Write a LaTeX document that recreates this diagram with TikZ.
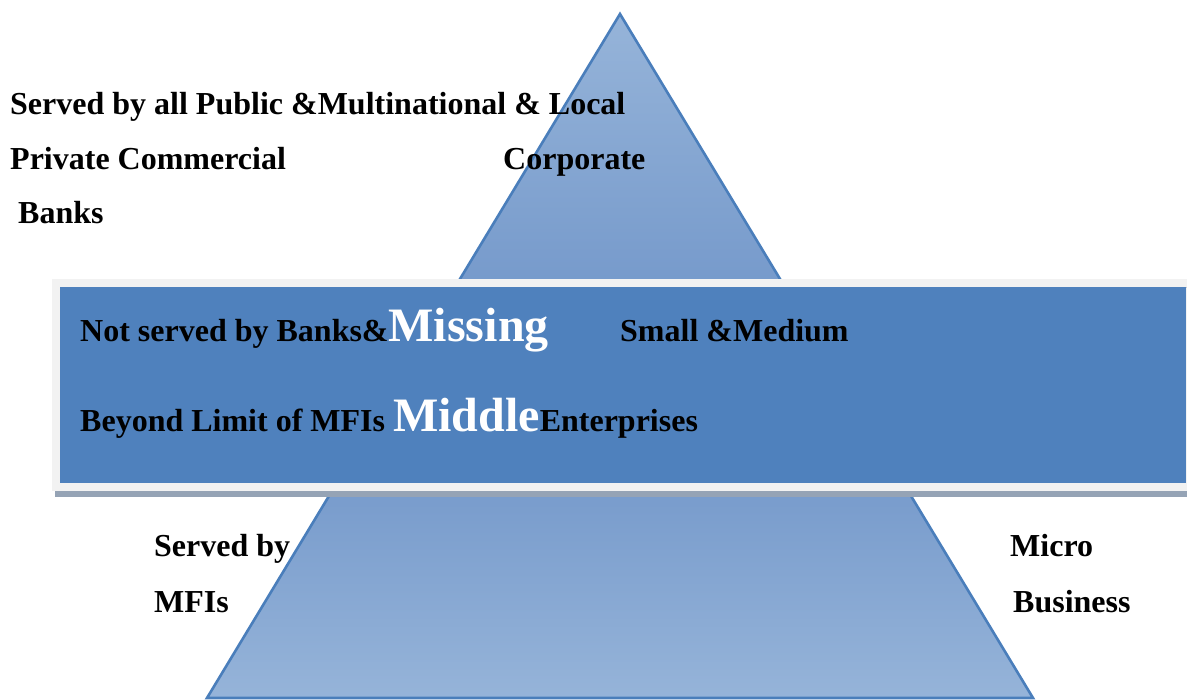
\documentclass[tikz,border=0pt]{standalone}
\usepackage{fontspec}
\setmainfont{Liberation Serif}
\definecolor{bandblue}{HTML}{4F81BD}
\definecolor{edgeblue}{HTML}{4A7EBB}
\definecolor{lightblue}{HTML}{96B4D9}
\definecolor{midblue}{HTML}{6A90C6}
\definecolor{framegrey}{HTML}{F2F2F2}
\definecolor{shadowgrey}{HTML}{95A3B5}
\newcommand{\lblfont}{\fontsize{32}{32}\selectfont\bfseries}
\newcommand{\bigwhite}{\fontsize{48}{48}\selectfont\bfseries\color{white}}
\tikzset{
  txt/.style={anchor=base west, inner sep=0pt, font=\lblfont},
}
\begin{document}
\begin{tikzpicture}[x=1pt,y=-1pt]
\useasboundingbox (0,0) rectangle (1187,700);
% pyramid
\coordinate (apex) at (620,14);
\coordinate (bl) at (207,698);
\coordinate (br) at (1033,698);
\begin{scope}
\clip (apex) -- (br) -- (bl) -- cycle;
\fill[top color=lightblue, bottom color=midblue] (200,14) rectangle (1040,390);
\fill[top color=midblue, bottom color=lightblue] (200,390) rectangle (1040,700);
\end{scope}
\draw[edgeblue, line width=2.6pt, line join=miter] (apex) -- (br) -- (bl) -- cycle;
% band
\fill[shadowgrey] (55,489) rectangle (1187,497);
\fill[framegrey] (52,279) rectangle (1187,491);
\draw[draw=black!20, line width=0.8pt] (60,287) -- (1187,287);
\fill[bandblue] (60,287.5) rectangle (1186,483);
% texts
\node[txt] (t1) at (10,115) {Served by all Public \&Multinational \& Local};
\node[txt] (t2) at (10,170) {Private Commercial};
\node[txt] (t3) at (18,224) {Banks};
\node[txt] (t4) at (503,170) {Corporate};
\node[txt] (m1) at (80,342) {Not served by Banks\&{\bigwhite Missing}};
\node[txt] (m2) at (620,342) {Small \&Medium};
\node[txt] (m3) at (80,432) {Beyond Limit of MFIs {\bigwhite Middle}Enterprises};
\node[txt] (b1) at (154,557) {Served by};
\node[txt] (b2) at (154,612) {MFIs};
\node[txt] (b3) at (1010,557) {Micro};
\node[txt] (b4) at (1013,612) {Business};
\end{tikzpicture}
\end{document}
